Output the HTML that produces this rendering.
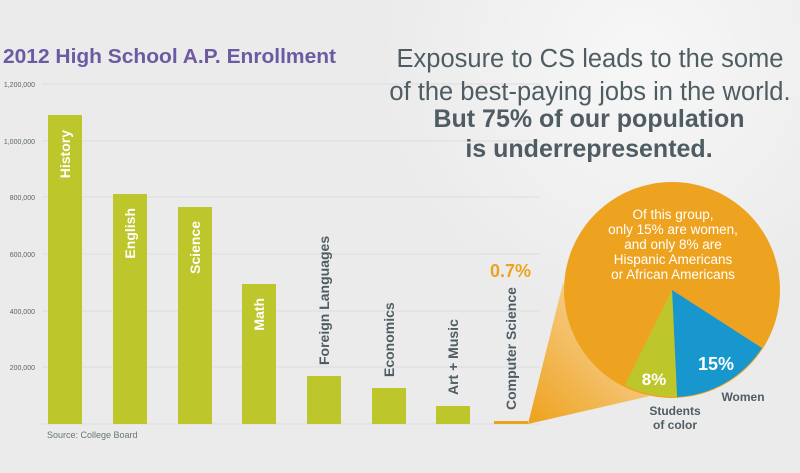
<!DOCTYPE html>
<html><head><meta charset="utf-8"><style>
html,body{margin:0;padding:0;background:#ebebeb;}
svg{display:block;font-family:"Liberation Sans",sans-serif;}
</style></head><body>
<svg width="800" height="473" viewBox="0 0 800 473" xmlns="http://www.w3.org/2000/svg">
<defs>
<radialGradient id="glow" cx="640" cy="60" r="260" gradientUnits="userSpaceOnUse">
<stop offset="0" stop-color="#f7f7f7"/><stop offset="1" stop-color="#ebebeb"/></radialGradient>
<linearGradient id="fun" x1="530" y1="420" x2="620" y2="330" gradientUnits="userSpaceOnUse">
<stop offset="0" stop-color="#eea320"/><stop offset="1" stop-color="#f6cd8a"/></linearGradient>
</defs>
<rect width="800" height="473" fill="#ebebeb"/>
<rect x="300" y="0" width="500" height="330" fill="url(#glow)"/>
<text x="3" y="63" font-size="20" font-weight="bold" fill="#6e5aa3" textLength="333" lengthAdjust="spacingAndGlyphs">2012 High School A.P. Enrollment</text>
<g stroke="#dcdcdc" stroke-width="1">
<line x1="42" y1="84" x2="540" y2="84"/><line x1="42" y1="141" x2="540" y2="141"/>
<line x1="42" y1="197" x2="540" y2="197"/><line x1="42" y1="254" x2="540" y2="254"/>
<line x1="42" y1="311" x2="540" y2="311"/><line x1="42" y1="367" x2="540" y2="367"/>
<line x1="42" y1="424" x2="540" y2="424"/></g>
<g font-size="7" fill="#5a6468" text-anchor="end">
<text x="35" y="87">1,200,000</text><text x="35" y="144">1,000,000</text><text x="35" y="200">800,000</text>
<text x="35" y="257">600,000</text><text x="35" y="314">400,000</text><text x="35" y="370">200,000</text></g>
<g fill="#bdc62a">
<rect x="48" y="115" width="34" height="309"/><rect x="113" y="194" width="34" height="230"/>
<rect x="178" y="207" width="34" height="217"/><rect x="242" y="284" width="34" height="140"/>
<rect x="307" y="376" width="34" height="48"/><rect x="372" y="388" width="34" height="36"/>
<rect x="436" y="406" width="34" height="18"/></g>
<polygon points="528,424 563,283 625,387 650,396 528,424" fill="url(#fun)"/>
<rect x="494" y="421" width="34" height="3" fill="#eea320"/>
<g font-size="14" font-weight="bold" fill="#fff">
<text transform="translate(70,130) rotate(-90)" text-anchor="end">History</text>
<text transform="translate(135,208) rotate(-90)" text-anchor="end">English</text>
<text transform="translate(200,221) rotate(-90)" text-anchor="end">Science</text>
<text transform="translate(264,298) rotate(-90)" text-anchor="end">Math</text></g>
<g font-size="14" font-weight="bold" fill="#4f5d63">
<text transform="translate(329,365) rotate(-90)">Foreign Languages</text>
<text transform="translate(394,377) rotate(-90)">Economics</text>
<text transform="translate(458,395) rotate(-90)">Art + Music</text>
<text transform="translate(516,410) rotate(-90)">Computer Science</text></g>
<text x="490" y="277" font-size="18" font-weight="bold" fill="#eea320">0.7%</text>
<text x="47" y="438" font-size="9" fill="#6a7478">Source: College Board</text>
<circle cx="672" cy="290" r="108" fill="#eea320"/>
<path d="M672,290 L762,348 A108,108 0 0 1 677,397 Z" fill="#1797ce"/>
<path d="M672,290 L677,397 A108,108 0 0 1 625,385 Z" fill="#bdc62a"/>
<g font-size="13.5" fill="#fff" text-anchor="middle">
<text x="673" y="219">Of this group,</text><text x="673" y="234">only 15% are women,</text>
<text x="673" y="249">and only 8% are</text><text x="673" y="264">Hispanic Americans</text>
<text x="673" y="279">or African Americans</text></g>
<text x="716" y="370" font-size="18" font-weight="bold" fill="#fff" text-anchor="middle">15%</text>
<text x="654" y="385" font-size="17" font-weight="bold" fill="#fff" text-anchor="middle">8%</text>
<g font-size="12" font-weight="bold" fill="#4f5d63" text-anchor="middle">
<text x="743" y="401">Women</text><text x="675" y="415">Students</text><text x="675" y="429">of color</text></g>
<g fill="#4f5d63" text-anchor="middle">
<text x="590" y="67" font-size="25.5">Exposure to CS leads to the some</text>
<text x="590" y="100" font-size="25.5">of the best-paying jobs in the world.</text>
<text x="589" y="127" font-size="25" font-weight="bold">But 75% of our population</text>
<text x="589" y="157" font-size="25" font-weight="bold">is underrepresented.</text></g>
</svg>
</body></html>
